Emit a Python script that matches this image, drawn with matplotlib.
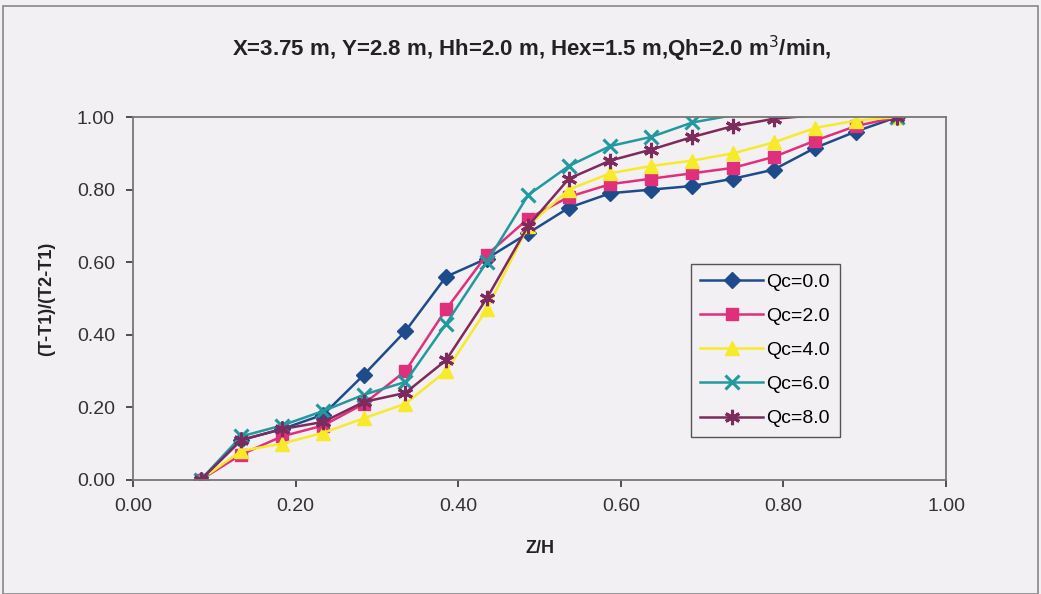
import matplotlib
matplotlib.use("Agg")
import matplotlib.pyplot as plt
from matplotlib.patches import Rectangle

plt.rcParams['font.family'] = ['Liberation Sans', 'DejaVu Sans']

# Z/H positions of the measurement points
zh = [0.083, 0.133, 0.183, 0.234, 0.284, 0.335, 0.385, 0.435, 0.486, 0.536,
      0.587, 0.637, 0.688, 0.738, 0.788, 0.839, 0.889, 0.940]

qc0 = [0.0, 0.11, 0.14, 0.18, 0.29, 0.41, 0.56, 0.61, 0.68, 0.75,
       0.79, 0.80, 0.81, 0.83, 0.855, 0.915, 0.96, 1.0]
qc2 = [0.0, 0.07, 0.12, 0.15, 0.21, 0.30, 0.47, 0.62, 0.72, 0.78,
       0.815, 0.83, 0.845, 0.86, 0.89, 0.935, 0.975, 1.0]
qc4 = [0.0, 0.08, 0.10, 0.13, 0.17, 0.21, 0.30, 0.47, 0.70, 0.80,
       0.845, 0.865, 0.88, 0.90, 0.93, 0.97, 0.99, 1.0]
qc6 = [0.0, 0.12, 0.15, 0.19, 0.235, 0.27, 0.43, 0.60, 0.785, 0.865,
       0.92, 0.945, 0.985, 1.005, 1.01, 1.01, 1.005, 1.0]
qc8 = [0.0, 0.11, 0.14, 0.16, 0.215, 0.24, 0.33, 0.50, 0.70, 0.83,
       0.88, 0.91, 0.945, 0.975, 0.995, 1.005, 1.005, 1.0]

labels = ['Qc=0.0', 'Qc=2.0', 'Qc=4.0', 'Qc=6.0', 'Qc=8.0']
series = [qc0, qc2, qc4, qc6, qc8]
colors = ['#1d4b8c', '#e0307c', '#f7ea2a', '#21999f', '#7e2a5c']
markers = ['D', 's', '^', 'x', (6, 2, 0)]
msizes = [8, 9, 10, 10, 11]

bg = '#f2f0f3'
fig = plt.figure(figsize=(10.41, 5.94), dpi=100, facecolor=bg)
fig.patches.append(Rectangle((0.003, 0.0), 0.994, 0.99, transform=fig.transFigure,
                             fill=False, edgecolor='#888888', lw=1.2))
ax = fig.add_axes([0.1278, 0.192, 0.781, 0.611])
ax.set_facecolor(bg)

for y, lab, c, m, s in zip(series, labels, colors, markers, msizes):
    # markers outside the value axis are not drawn
    idx = [i for i, v in enumerate(y) if v <= 1.0]
    thin = m == 'x' or isinstance(m, tuple)
    ax.plot(zh, y, color=c, lw=1.8, marker=m, ms=s, mew=2.2 if thin else 1,
            mfc=c, mec=c, markevery=idx, label=lab, clip_on=True)

ax.set_xlim(0, 1)
ax.set_ylim(0, 1)
ax.set_xticks([0, 0.2, 0.4, 0.6, 0.8, 1.0])
ax.set_yticks([0, 0.2, 0.4, 0.6, 0.8, 1.0])
ax.xaxis.set_major_formatter(matplotlib.ticker.FormatStrFormatter('%.2f'))
ax.yaxis.set_major_formatter(matplotlib.ticker.FormatStrFormatter('%.2f'))
ax.tick_params(labelsize=14, colors='#333333', length=5, width=1.2, direction='out', pad=8)
for sp in ax.spines.values():
    sp.set_color('#777777')
    sp.set_linewidth(1.3)

ax.set_xlabel('Z/H', fontsize=13, fontweight='bold', labelpad=18, color='#222222')
ax.set_ylabel('(T-T1)/(T2-T1)', fontsize=13, fontweight='bold', labelpad=16, color='#222222')
fig.text(0.511, 0.918, 'X=3.75 m, Y=2.8 m, Hh=2.0 m, Hex=1.5 m,Qh=2.0 m$^3$/min,',
         ha='center', va='center', fontsize=16, fontweight='bold', color='#222222')

leg = ax.legend(loc='lower left', bbox_to_anchor=(0.686, 0.118), fontsize=14,
                frameon=True, fancybox=False, handlelength=3.2, labelspacing=0.85,
                borderpad=0.5, handletextpad=0.2, borderaxespad=0)
leg.get_frame().set_edgecolor('#555555')
leg.get_frame().set_facecolor(bg)
leg.get_frame().set_alpha(1)
leg.get_frame().set_linewidth(1.0)

fig.savefig('out.png', dpi=100, facecolor=bg)
